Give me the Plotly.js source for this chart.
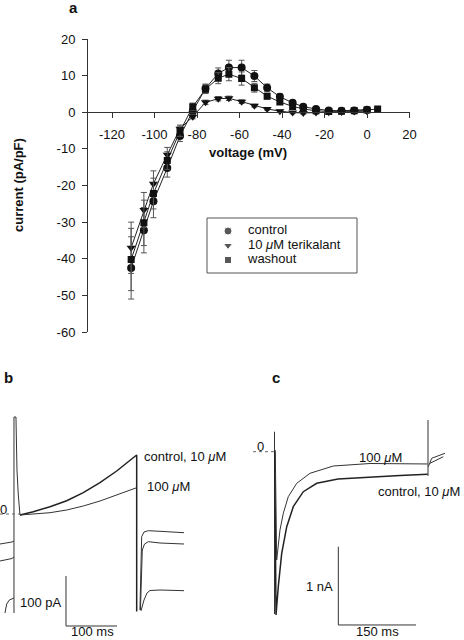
<!DOCTYPE html>
<html><head><meta charset="utf-8">
<script src="https://cdn.plot.ly/plotly-3.0.1.min.js"></script>
<style>html,body{margin:0;padding:0;background:#fff}#chart{width:464px;height:640px}</style>
</head><body><div id="chart"></div>
<script>
// ---------- Panel a: I-V relation ----------
const voltage = [-111,-105,-100.5,-94,-88,-82,-76,-70,-65,-59,-53,-47,-41,-35,-30,-24,-18,-12,-6,0,5];
const controlI = [-42.5,-32.2,-24.3,-15.2,-6.5,0.3,6.5,10.6,12.2,12.2,9.9,6.7,4.2,2.6,1.5,0.9,0.5,0.4,0.5,0.7,null];
const controlErr = [8.5,6.2,4.5,2.5,1.5,1.0,1.2,1.5,2.0,2.0,1.5,1.0,0.8,0.6,0.5,0.4,0.3,0.3,0.3,0.3,null];
const terikalantI = [-37,-26.7,-19.5,-11.6,-4.5,-1.2,2.7,3.7,3.8,2.9,1.8,0.9,0.3,-0.1,-0.2,-0.1,0,0.1,0.2,0.3,null];
const terikalantErr = [7,4.8,3.5,2,1,0.6,0.6,0.6,0.6,0.5,0.4,0.3,0.3,0.3,0.3,0.3,0.3,0.3,0.3,0.3,null];
const washoutI = [-40.2,-30.2,-22.2,-13.2,-5.2,1.5,6.3,9.3,10.4,9.2,6.7,4.4,2.8,1.6,0.9,0.4,0.2,0.3,0.4,0.6,0.9];
const washoutErr = [8.5,6.2,4.2,2.4,1.4,1.0,1.2,1.5,1.8,1.8,1.2,0.8,0.6,0.5,0.4,0.3,0.3,0.3,0.3,0.3,0.3];
const seriesNames = ['control','10 <i>μ</i>M terikalant','washout'];
const seriesSymbols = ['circle','triangle-down','square'];
const seriesSizes = [8,8,7];
const xTickVals = [-120,-100,-80,-60,-40,-20,0,20];
const xTickText = ['-120','-100','-80','-60','-40','-20','0','20'];
const yTickVals = [-60,-50,-40,-30,-20,-10,0,10,20];
const yTickText = ['-60','-50','-40','-30','-20','-10','0','10','20'];

// ---------- Panel b: current traces (ms, pA) ----------
const bSpikeT = [-1,-1,2.9,4.9,7.5,10.8];
const bSpikeI = [-198,194,194,88,38,-2];
const bControlT = [10.8,36.9,69.6,102.4,134.9,167.6,200.4,239.6,239.6];
const bControlI = [-2,4.6,14.6,26.6,42.6,62.6,86,118,-195];
const b100T = [10.8,36.9,69.6,102.4,134.9,167.6,200.4,239.6];
const b100I = [-2,-0.6,2.6,8,16,26,38,52.6];
const bTail1T = [246,249.4,254,262.4,285.3,332.4];
const bTail1I = [-192,-45.4,-36,-33.4,-34.6,-37.4];
const bTail2T = [247,250.6,255,262.4,285.3,332.4];
const bTail2I = [-192,-72,-60,-55.4,-58,-60];
const bTail3T = [248,254,259.8,265.7,285.3,332.4];
const bTail3I = [-194,-172,-158,-153,-152,-153.4];
const bPre1T = [-28.4,-15,-5,-1];
const bPre1I = [-60,-58,-56,-54];
const bPre2T = [-28.4,-15,-5,-1];
const bPre2I = [-94,-92,-89,-86];
const bPre3T = [-1,-10,-15.3,-18.6];
const bPre3I = [-168,-172,-180,-198];
const bZeroT = [-28.4,12];
const bZeroI = [0,0];
const bBarT = [101,101,201];
const bBarI = [-124,-224,-224];

// ---------- Panel c: current traces (ms, nA) ----------
const cSpikeT = [0,0];
const cSpikeI = [0.255,-2.073];
const cControlT = [0.5,2.9,7.3,13.9,23.6,36.3,55.6,81.5,122.6,190.7,242.3,295.8];
const cControlI = [0,-2.086,-1.724,-1.298,-0.958,-0.702,-0.511,-0.404,-0.349,-0.319,-0.304,-0.289];
const c100T = [1.5,4.2,10.6,17,26.6,42.9,68.5,113.5,184.4,242.3,295.8];
const c100I = [0.02,-1.383,-1.0,-0.787,-0.575,-0.404,-0.276,-0.183,-0.151,-0.151,-0.157];
const cEndT = [296.3,296.3];
const cEndI = [0.405,-0.31];
const cTail1T = [296.9,303.5,329.2];
const cTail1I = [-0.192,-0.084,-0.020];
const cTail2T = [300.2,325.9];
const cTail2I = [-0.148,-0.064];
const cZeroT = [-41.5,-1];
const cZeroI = [0,0];
const cBarT = [123.2,123.2,273.2];
const cBarI = [-1.213,-2.213,-2.213];

const W = 464, H = 640;
const px = v => v / W, py = v => 1 - v / H;
const ink = '#222';
const font = {family: 'Liberation Sans, Arial, sans-serif', size: 13, color: '#111'};

const traces = [];
const ivSets = [
  {y: controlI, e: controlErr},
  {y: terikalantI, e: terikalantErr},
  {y: washoutI, e: washoutErr}
];
ivSets.forEach(s => traces.push({x: voltage, y: s.y, type: 'scatter', mode: 'lines', line: {color: ink, width: 1}, showlegend: false, hoverinfo: 'skip', xaxis: 'x', yaxis: 'y', connectgaps: false}));
ivSets.forEach((s, i) => traces.push({x: voltage, y: s.y, type: 'scatter', mode: 'markers', name: seriesNames[i], showlegend: false,
  marker: {symbol: seriesSymbols[i], size: seriesSizes[i], color: '#111'},
  error_y: {type: 'data', array: s.e, visible: true, color: '#555', thickness: 1, width: 3},
  xaxis: 'x', yaxis: 'y'}));

// legend rows (on their own small hidden axes inside the legend box)
const legendRow = [0, 1, 2];
traces.push({x: [0, 0, 0], y: legendRow, type: 'scatter', mode: 'markers', showlegend: false, hoverinfo: 'skip',
  marker: {symbol: seriesSymbols, size: seriesSizes, color: '#111'}, xaxis: 'x4', yaxis: 'y4'});
traces.push({x: [20, 20, 20], y: legendRow, type: 'scatter', mode: 'text', text: seriesNames, textposition: 'middle right',
  textfont: font, showlegend: false, hoverinfo: 'skip', xaxis: 'x4', yaxis: 'y4'});

function line(x, y, ax, opts) {
  traces.push(Object.assign({x: x, y: y, type: 'scatter', mode: 'lines', line: {color: '#333', width: 1}, showlegend: false, hoverinfo: 'skip', xaxis: 'x' + ax, yaxis: 'y' + ax}, opts || {}));
}
line(bSpikeT, bSpikeI, 2);
line(bControlT, bControlI, 2, {line: {color: '#222', width: 1.5}});
line(b100T, b100I, 2);
line(bTail1T, bTail1I, 2);
line(bTail2T, bTail2I, 2);
line(bTail3T, bTail3I, 2);
line(bPre1T, bPre1I, 2);
line(bPre2T, bPre2I, 2);
line(bPre3T, bPre3I, 2);
line(bZeroT, bZeroI, 2, {line: {color: '#666', width: 1, dash: 'dot'}});
line(bBarT, bBarI, 2, {line: {color: '#333', width: 1}});

line(cSpikeT, cSpikeI, 3);
line(cControlT, cControlI, 3, {line: {color: '#222', width: 1.5}});
line(c100T, c100I, 3);
line(cEndT, cEndI, 3);
line(cTail1T, cTail1I, 3);
line(cTail2T, cTail2I, 3);
line(cZeroT, cZeroI, 3, {line: {color: '#666', width: 1, dash: 'dot'}});
line(cBarT, cBarI, 3, {line: {color: '#333', width: 1}});

const yDomA = [1 - 332 / H, 1 - 39 / H];
const zeroPos = yDomA[0] + (60 / 80) * (yDomA[1] - yDomA[0]);

const hidden = {visible: false, showgrid: false, zeroline: false, fixedrange: true};
function ann(text, x, y, opts) {
  return Object.assign({text: text, x: x, y: y, xref: 'paper', yref: 'paper', xanchor: 'center', yanchor: 'middle', showarrow: false, font: font}, opts || {});
}
const bold15 = {family: font.family, size: 15, color: '#111'};
const layout = {
  width: W, height: H, margin: {l: 0, r: 0, t: 0, b: 0},
  paper_bgcolor: '#fff', plot_bgcolor: 'rgba(0,0,0,0)', font: font,
  showlegend: false,
  xaxis: {domain: [px(88), px(409.5)], range: [-131.3, 20], anchor: 'free', position: zeroPos,
    showline: true, linecolor: '#333', linewidth: 1, ticks: 'outside', ticklen: 5, tickcolor: '#333',
    tickvals: xTickVals, ticktext: xTickText, showgrid: false, zeroline: false, ticklabelstandoff: 5, tickfont: font},
  yaxis: {domain: yDomA, range: [-60, 20], anchor: 'x', showline: true, linecolor: '#333', linewidth: 1,
    ticks: 'outside', ticklen: 5, tickcolor: '#333', tickvals: yTickVals, ticktext: yTickText,
    showgrid: false, zeroline: false, ticklabelstandoff: 4, tickfont: font},
  xaxis2: Object.assign({domain: [0, px(240)], range: [-28.4, 442.2], anchor: 'y2'}, hidden),
  yaxis2: Object.assign({domain: [0, 0.375], range: [-252, 228], anchor: 'x2'}, hidden),
  xaxis3: Object.assign({domain: [px(240), 1], range: [-66.6, 365.8], anchor: 'y3'}, hidden),
  yaxis3: Object.assign({domain: [0, 0.375], range: [-2.405, 0.660], anchor: 'x3'}, hidden),
  // legend box axes: x in px offset from marker column, rows top to bottom
  xaxis4: Object.assign({domain: [px(207), px(357)], range: [-21, 129], anchor: 'y4'}, hidden),
  yaxis4: Object.assign({domain: [py(273), py(218)], range: [2.9, -0.9], anchor: 'x4'}, hidden),
  shapes: [
    {type: 'rect', xref: 'paper', yref: 'paper', x0: px(207), x1: px(357), y0: py(273), y1: py(218),
     line: {color: '#555', width: 1}, fillcolor: '#fff', layer: 'below'}
  ],
  annotations: [
    ann('<b>a</b>', px(73), py(8), {font: bold15}),
    ann('<b>b</b>', px(8), py(377), {font: bold15}),
    ann('<b>c</b>', px(276), py(377), {font: bold15}),
    ann('<b>voltage (mV)</b>', px(248), py(153)),
    ann('<b>current (pA/pF)</b>', px(18), py(185), {textangle: -90}),
    {text: '0', x: -21, y: 10, xref: 'x2', yref: 'y2', showarrow: false, font: font},
    {text: 'control, 10 <i>μ</i>M', x: 250, y: 114.6, xref: 'x2', yref: 'y2', xanchor: 'left', showarrow: false, font: font},
    {text: '100 <i>μ</i>M', x: 255.9, y: 56, xref: 'x2', yref: 'y2', xanchor: 'left', showarrow: false, font: font},
    {text: '100 pA', x: 97, y: -176, xref: 'x2', yref: 'y2', xanchor: 'right', showarrow: false, font: font},
    {text: '100 ms', x: 152, y: -235, xref: 'x2', yref: 'y2', showarrow: false, font: font},
    {text: '0', x: -28, y: 0.06, xref: 'x3', yref: 'y3', showarrow: false, font: font},
    {text: '100 <i>μ</i>M', x: 158.7, y: -0.08, xref: 'x3', yref: 'y3', xanchor: 'left', showarrow: false, font: font},
    {text: 'control, 10 <i>μ</i>M', x: 196, y: -0.511, xref: 'x3', yref: 'y3', xanchor: 'left', showarrow: false, font: font},
    {text: '1 nA', x: 116.8, y: -1.728, xref: 'x3', yref: 'y3', xanchor: 'right', showarrow: false, font: font},
    {text: '150 ms', x: 197.9, y: -2.295, xref: 'x3', yref: 'y3', showarrow: false, font: font}
  ]
};
Plotly.newPlot('chart', traces, layout, {staticPlot: true, displayModeBar: false});
</script></body></html>
